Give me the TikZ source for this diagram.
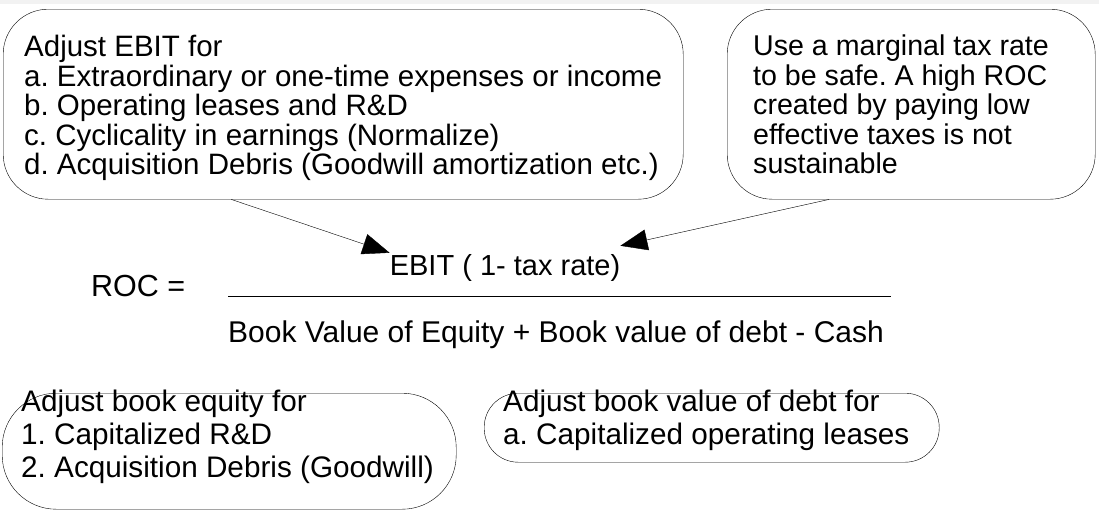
\documentclass[tikz,border=0pt]{standalone}
\usepackage{fontspec}
\setmainfont{Liberation Sans}
\usetikzlibrary{arrows.meta,positioning}
\frenchspacing

\tikzset{
    note/.style={draw, thin, rounded corners=45pt, inner sep=0pt, anchor=north west},
    txt/.style={inner sep=0pt, align=left, anchor=north west, font=\fontsize{29.5}{29.5}\selectfont},
    arr/.style={-{Triangle[length=27pt,width=21pt]}, thin},
}

\begin{document}
\begin{tikzpicture}[x=1pt,y=-1pt]
    \useasboundingbox (0,0) rectangle (1099,514);
    \fill[black!5] (0,0) rectangle (1099,4);

    % boxes on top
    \node[note, minimum width=680pt, minimum height=190pt] (ebitbox) at (3,9) {};
    \node[note, minimum width=368pt, minimum height=190pt] (taxbox) at (727,9) {};
    \node[txt] (ebittxt) at (24,35) {Adjust EBIT for\\
        a. Extraordinary or one-time expenses or income\\
        b. Operating leases and R\&D\\
        c. Cyclicality in earnings (Normalize)\\
        d. Acquisition Debris (Goodwill amortization etc.)};
    \node[txt, font=\fontsize{28.6}{29.5}\selectfont] (taxtxt) at (753,35) {Use a marginal tax rate\\
        to be safe. A high ROC\\
        created by paying low\\
        effective taxes is not\\
        sustainable};

    % the ratio
    \node[txt, anchor=base, font=\fontsize{29}{30}\selectfont] (num) at (505,275) {EBIT ( 1- tax rate)};
    \node[txt, anchor=base west, font=\fontsize{30.5}{31}\selectfont] (roc) at (91,296) {ROC =};
    \coordinate (barl) at (228,296);
    \coordinate (barr) at (891,296);
    \draw[thin] (barl) -- (barr);
    \node[txt, anchor=base west, font=\fontsize{30}{31}\selectfont] (den) at (228,342) {Book Value of Equity + Book value of debt - Cash};

    \draw[arr] ([xshift=-112pt]ebitbox.south) -- ([yshift=1pt]num.north west);
    \draw[arr] ([xshift=-82pt]taxbox.south) -- ([yshift=8pt]num.north east);

    % boxes at the bottom
    \node[note, rounded corners=54pt, minimum width=454pt, minimum height=116pt] (eqbox) at (2,393) {};
    \node[note, rounded corners=34pt, minimum width=455pt, minimum height=69pt] (debtbox) at (484,393) {};
    \node[txt, font=\fontsize{29.7}{33}\selectfont] (eqtxt) at (21,390) {Adjust book equity for\\
        1. Capitalized R\&D\\
        2. Acquisition Debris (Goodwill)};
    \node[txt, font=\fontsize{29.7}{33}\selectfont] (debttxt) at (503,390) {Adjust book value of debt for\\
        a. Capitalized operating leases};
\end{tikzpicture}
\end{document}
